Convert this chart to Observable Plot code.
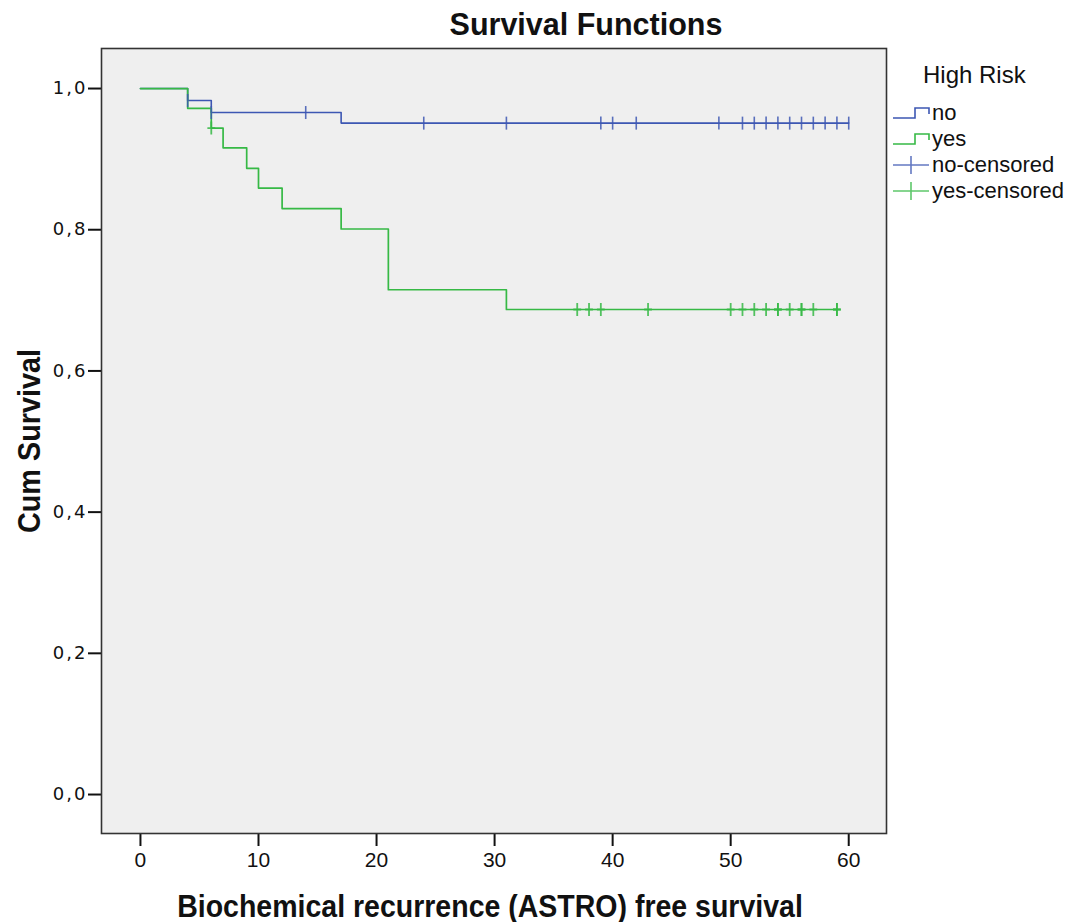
<!DOCTYPE html>
<html>
<head>
<meta charset="utf-8">
<script src="https://cdn.jsdelivr.net/npm/d3@7"></script>
<script src="https://cdn.jsdelivr.net/npm/@observablehq/plot@0.6"></script>
<style>
  body { margin: 0; background: #ffffff; }
  #wrap { position: relative; width: 1069px; height: 922px; }
  #legend { position: absolute; left: 890px; top: 57px; font-family: "Liberation Sans", Arial, sans-serif; color: #111; }
  #legend .ttl { font-size: 24px; margin-left: 33px; height: 43px; line-height: 36px; }
  #legend .row { display: flex; align-items: center; height: 26px; font-size: 22px; }
  #legend svg { display: block; margin-right: 2px; }
  g[aria-label="y-axis tick label"] text { letter-spacing: 2px; }
</style>
</head>
<body>
<div id="wrap"><div id="legend"></div></div>
<script>
// ---- data ----
const groups = ["no", "yes"];
const groupColors = ["#3d57b3", "#36b945"];
const legendTitle = "High Risk";
const legendLabels = ["no", "yes", "no-censored", "yes-censored"];

// step points of the Kaplan–Meier curves
const noTimes = [0, 4, 6, 17, 60];
const noSurv  = [1.000, 0.983, 0.966, 0.951, 0.951];
const yesTimes = [0, 4, 6, 7, 9, 10, 12, 17, 21, 31, 59];
const yesSurv  = [1.000, 0.972, 0.944, 0.916, 0.887, 0.859, 0.830, 0.801, 0.715, 0.687, 0.687];

// censored observations
const noCensTimes = [4, 6, 14, 24, 31, 39, 40, 42, 49, 51, 52, 53, 54, 55, 56, 57, 58, 59, 60];
const noCensSurv  = [0.983, 0.966, 0.966, 0.951, 0.951, 0.951, 0.951, 0.951, 0.951, 0.951, 0.951, 0.951, 0.951, 0.951, 0.951, 0.951, 0.951, 0.951, 0.951];
const yesCensTimes = [6, 37, 38, 39, 43, 50, 51, 52, 53, 54, 54, 55, 56, 56, 57, 59, 59];
const yesCensSurv  = [0.944, 0.687, 0.687, 0.687, 0.687, 0.687, 0.687, 0.687, 0.687, 0.687, 0.687, 0.687, 0.687, 0.687, 0.687, 0.687, 0.687];

const xTicks = [0, 10, 20, 30, 40, 50, 60];
const yTicks = [0, 0.2, 0.4, 0.6, 0.8, 1.0];

const chartTitle = "Survival Functions";
const xTitle = "Biochemical recurrence (ASTRO) free survival";
const yTitle = "Cum Survival";

// ---- build tables ----
const curveNo = noTimes.map((t, i) => ({t, s: noSurv[i]}));
const curveYes = yesTimes.map((t, i) => ({t, s: yesSurv[i]}));
const censNo = noCensTimes.map((t, i) => ({t, s: noCensSurv[i]}));
const censYes = yesCensTimes.map((t, i) => ({t, s: yesCensSurv[i]}));

const censorSymbol = (hw) => ({
  draw(ctx, size) {
    const r = Math.sqrt(size / Math.PI);
    ctx.moveTo(0, -r); ctx.lineTo(0, r);
    if (hw) { ctx.moveTo(-r * hw, 0); ctx.lineTo(r * hw, 0); }
  }
});

const sans = '"Liberation Sans", Arial, sans-serif';

const chart = Plot.plot({
  width: 1069,
  height: 922,
  marginLeft: 101,
  marginRight: 183,
  marginTop: 48,
  marginBottom: 89,
  style: { background: "transparent", color: "#111" },
  x: { domain: [-3.3, 63.2] },
  y: { domain: [-0.0552, 1.0567] },
  marks: [
    Plot.frame({ fill: "#efefef" }),
    Plot.axisY({
      ticks: yTicks, tickSize: 13, tickPadding: 1, strokeWidth: 2,
      tickFormat: d => d.toFixed(1).replace(".", ","),
      fontSize: 18, fontFamily: '"DejaVu Sans", Verdana, sans-serif', label: null
    }),
    Plot.axisX({
      ticks: xTicks, tickSize: 13, tickPadding: 6, strokeWidth: 2,
      tickFormat: d => String(d),
      fontSize: 21, fontFamily: sans, label: null
    }),
    Plot.line(curveNo, { x: "t", y: "s", curve: "step-after", stroke: groupColors[0], strokeWidth: 1.6 }),
    Plot.line(curveYes, { x: "t", y: "s", curve: "step-after", stroke: groupColors[1], strokeWidth: 1.7 }),
    Plot.dot(censNo, { x: "t", y: "s", r: 6.5, symbol: censorSymbol(0), fill: "none", stroke: groupColors[0], strokeWidth: 1.6, strokeOpacity: 0.85 }),
    Plot.dot(censYes, { x: "t", y: "s", r: 6.5, symbol: censorSymbol(0.6), fill: "none", stroke: groupColors[1], strokeWidth: 1.8, strokeOpacity: 0.85 }),
    Plot.frame({ stroke: "#333", strokeWidth: 1.6 }),
    Plot.text([chartTitle], { frameAnchor: "top", dx: 92, dy: -35, fontSize: 30.5, fontWeight: "bold", fontFamily: sans, fill: "#111" }),
    Plot.text([xTitle], { frameAnchor: "bottom", dx: -4, dy: 83, fontSize: 31, fontWeight: "bold", fontFamily: sans, fill: "#111" }),
    Plot.text([yTitle], { frameAnchor: "left", textAnchor: "middle", lineAnchor: "middle", dx: -71, rotate: -90, fontSize: 31, fontWeight: "bold", fontFamily: sans, fill: "#111" })
  ]
});
document.getElementById("wrap").prepend(chart);

// condense the bold axis titles horizontally (narrow face)
const titleTexts = d3.select(chart).selectAll('g[aria-label="text"] text').nodes();
[[1, 0.92], [2, 0.93]].forEach(([i, k]) => {
  const el = titleTexts[i];
  if (el) el.setAttribute("transform", (el.getAttribute("transform") || "") + ` scale(${k},1)`);
});

// ---- legend ----
const lg = d3.select("#legend");
lg.append("div").attr("class", "ttl").text(legendTitle);
legendLabels.forEach((lab, i) => {
  const color = groupColors[i % 2];
  const row = lg.append("div").attr("class", "row");
  const svg = row.append("svg").attr("width", 40).attr("height", 26);
  if (i < 2) {
    svg.append("path").attr("d", "M3,18H25V8H39V14").attr("fill", "none")
      .attr("stroke", color).attr("stroke-width", 1.6);
  } else {
    svg.append("path").attr("d", "M3,13H39M21,4V22").attr("fill", "none")
      .attr("stroke", color).attr("stroke-width", 1.6).attr("stroke-opacity", 0.8);
  }
  row.append("span").text(lab);
});
</script>
</body>
</html>
